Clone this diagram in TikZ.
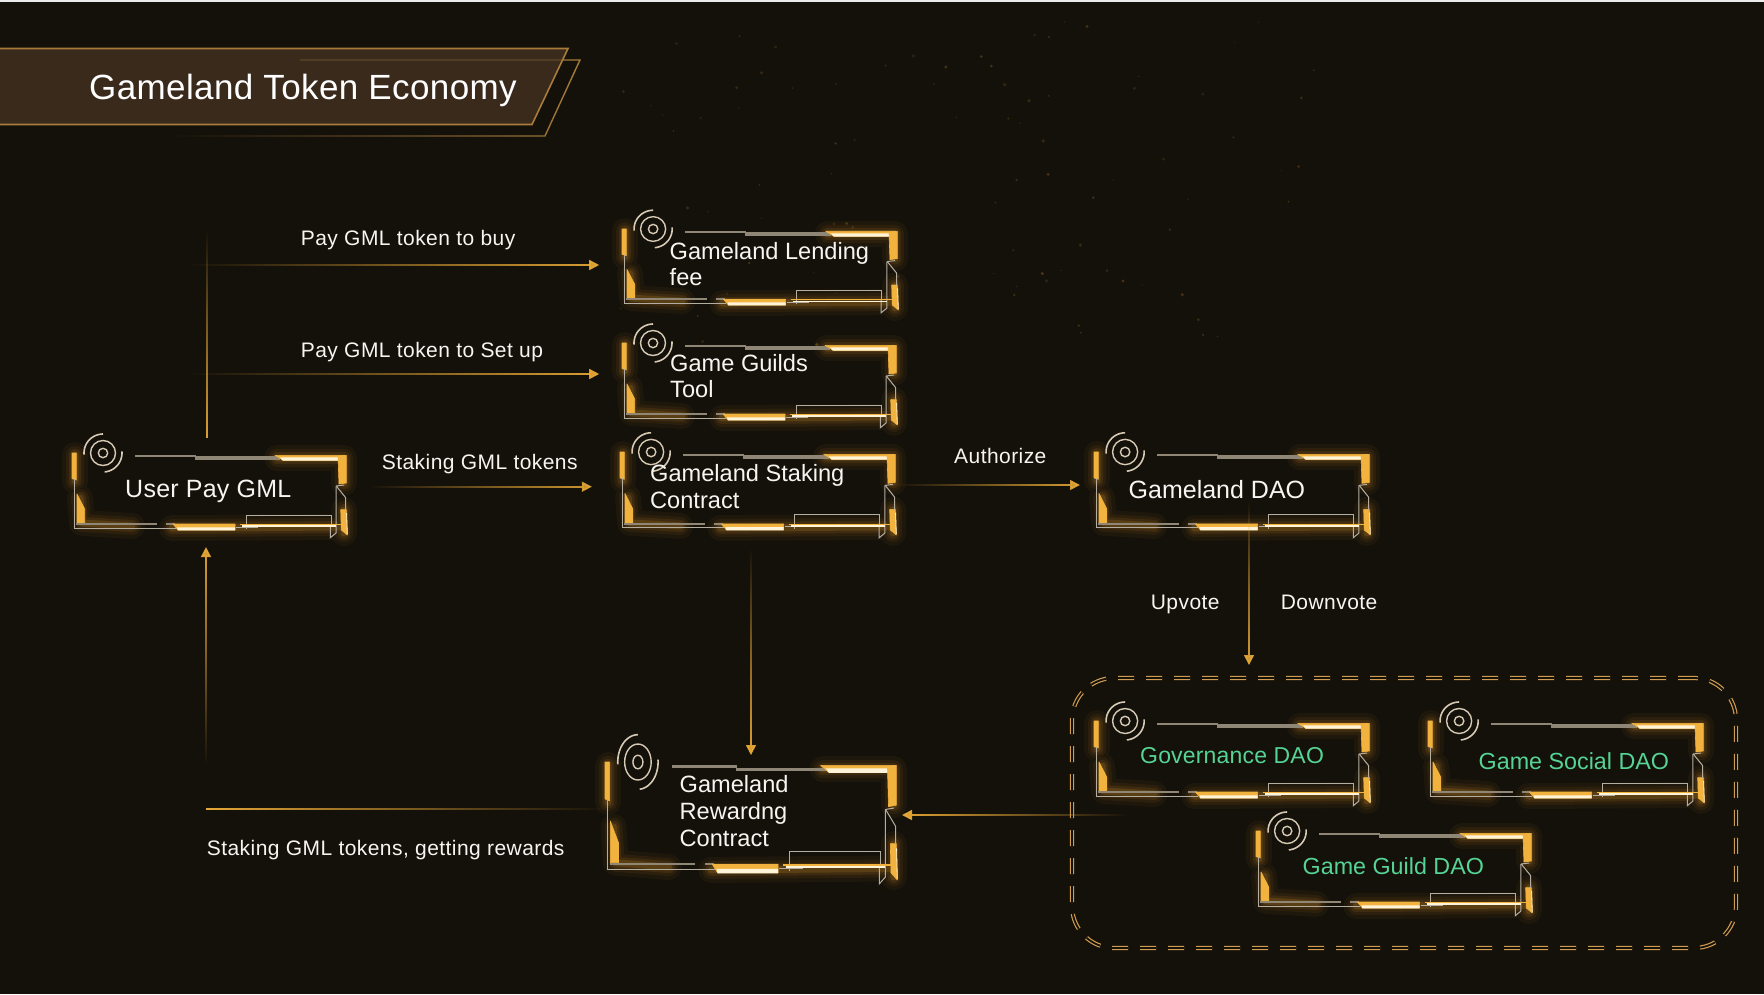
\documentclass[tikz,border=0pt]{standalone}
\usepackage{fontspec}
\setmainfont{Liberation Sans}
\usetikzlibrary{arrows.meta,fadings,calc}
\definecolor{bgdark}{HTML}{14100A}
\definecolor{fgold}{HTML}{F2B23E}
\definecolor{fhot}{HTML}{FFF3D8}
\definecolor{fgrey}{HTML}{8F8675}
\definecolor{fthin}{HTML}{B4AEA2}
\definecolor{ficon}{HTML}{D6CAB5}
\definecolor{fglow}{HTML}{E89F2E}
\definecolor{goldline}{HTML}{E8A936}
\definecolor{bannerfill}{HTML}{3A2A1C}
\definecolor{bannerline}{HTML}{A97C3C}
\definecolor{dashgold}{HTML}{D09C50}
\definecolor{daogreen}{HTML}{55D495}
\definecolor{txt}{HTML}{F6F5F1}
\tikzfading[name=fadeE,left color=transparent!100,middle color=transparent!45,right color=transparent!0]
\tikzfading[name=fadeW,right color=transparent!100,middle color=transparent!45,left color=transparent!0]
\tikzfading[name=fadeS,top color=transparent!100,bottom color=transparent!0,middle color=transparent!45]
\tikzfading[name=fadeN,bottom color=transparent!100,top color=transparent!0,middle color=transparent!45]
\tikzset{
  fbox/.style={rectangle,inner sep=0pt,outer sep=0pt,anchor=north west},
  conn/.style={draw=goldline,line width=1.6pt},
  arrowed/.style={-{Triangle[length=10pt,width=10pt]}},
  fadeX/.style n args={3}{path fading=#1,fit fading=false,fading transform={shift={(#2)},xscale=#3}},
  fadeY/.style n args={3}{path fading=#1,fit fading=false,fading transform={shift={(#2)},yscale=#3}},
  lbl/.style={text=txt,inner sep=0pt,anchor=base west,font=\addfontfeature{LetterSpace=2.1}\fontsize{21}{25}\selectfont},
  ftxt/.style={text=txt,inner sep=0pt,anchor=base west,font=\addfontfeature{LetterSpace=1}\fontsize{25}{30}\selectfont},
  ftwo/.style={text=txt,inner sep=0pt,anchor=west,align=left},
  fgreen/.style={text=daogreen,inner sep=0pt,anchor=base west,font=\fontsize{23.3}{28}\selectfont},
  goldpart/.style={fill=fgold,draw=fgold,line width=.6pt,line join=round},
  hotpart/.style={fill=fhot,draw=none},
  thinline/.style={draw=fthin,line width=1pt},
  greyline/.style={draw=fgrey,line width=3.2pt},
  iconline/.style={draw=ficon,line width=1.4pt},
}
\newcommand{\glowpath}{
  (205,5) -- (272,5) -- (272,30) (272,57) -- (272,80)
  (100,75) -- (272,74) (3,2) -- (3,28) (8,45) -- (10,70) -- (60,73)
}
\newcommand{\gameframe}[5]{%
  \node[fbox,minimum width=#4pt,minimum height=#5pt] (#1) at (#2,#3) {};
  \pgfmathsetmacro{\fxs}{#4/275}\pgfmathsetmacro{\fys}{#5/82}
  \begin{scope}[shift={(#2,#3)},xscale=\fxs,yscale=\fys]
    \draw[fglow,line cap=round,line join=round,line width=26pt,opacity=.05] \glowpath;
    \draw[fglow,line cap=round,line join=round,line width=18pt,opacity=.07] \glowpath;
    \draw[fglow,line cap=round,line join=round,line width=12pt,opacity=.1] \glowpath;
    \draw[fglow,line cap=round,line join=round,line width=7pt,opacity=.16] \glowpath;
    % icon
    \draw[iconline] (31,0) circle[x radius=4.7,y radius=4.7];
    \draw[iconline] (31,0) circle[x radius=12.5,y radius=12.5];
    \draw[iconline,line width=1.6pt] plot[domain=90:185,samples=14,smooth] ({31+19*cos(\x)},{-19*sin(\x)});
    \draw[iconline,line width=1.6pt] plot[domain=-85:5,samples=14,smooth] ({31+19*cos(\x)},{-19*sin(\x)});
    % top
    \draw[greyline,line width=2.4pt] (63,3) -- (124,3);
    \draw[greyline] (123,5) -- (208,5);
    \fill[goldpart] (203,2.3) -- (273,2.3) -- (266,7.3) -- (211,7.3) -- cycle;
    \fill[hotpart] (208,4.4) -- (267,4.4) -- (266,7.6) -- (211,7.6) -- cycle;
    % right
    \fill[goldpart] (266,3) -- (274.3,2.3) -- (274.3,30) -- (267,31) -- cycle;
    \fill[goldpart] (268.7,56.7) -- (274.3,56.7) -- (275.3,82) -- (269.3,77) -- cycle;
    \draw[draw=fhot,line width=.8pt] (274.6,60) -- (275.3,81);
    \draw[thinline] (264,33) -- (264,80) -- (258.3,84.7) -- (258.3,72);
    \draw[thinline] (264,33) -- (272,32) (264.3,33) -- (273.7,44.7) -- (273.7,57);
    % left
    \fill[goldpart] (0,0) -- (4.3,0) -- (4.3,27) -- (0,25.6) -- cycle;
    \fill[goldpart] (5,41) -- (12.7,56) -- (12.7,70) -- (5,70) -- cycle;
    \draw[thinline] (2,26) -- (2,75) -- (104,75);
    % bottom
    \draw[greyline,line width=2.6pt] (4.3,71) -- (85,71) (94,71) -- (103,71);
    \fill[goldpart] (101,71) -- (163,71) -- (163,77) -- (106,77) -- cycle;
    \fill[hotpart] (105,74.3) -- (163,74.3) -- (163,77.3) -- (106,77.3) -- cycle;
    \draw[thinline] (164,74) -- (186,74);
    \draw[thinline] (174,76) -- (174,62) -- (259,62) -- (259,72);
    \draw[fgold,line width=1.5pt] (168,71.5) -- (272,71.5);
    \draw[fhot,line width=1.2pt] (170,73) -- (264,73);
  \end{scope}
}
\begin{document}
\begin{tikzpicture}[x=1pt,y=-1pt]
\useasboundingbox (0,0) rectangle (1764,994);
\fill[bgdark] (0,0) rectangle (1764,994);
\fill[black!8] (0,0) rectangle (1764,1.5);
% particles
\pgfmathsetseed{11}
\foreach \i in {1,...,90}{
  \pgfmathsetmacro{\px}{620+700*rnd}
  \pgfmathsetmacro{\py}{20+330*rnd}
  \pgfmathsetmacro{\pr}{.6+1.3*rnd}
  \pgfmathsetmacro{\pm}{10+14*rnd}
  \fill[fgold!\pm!bgdark] (\px,\py) circle[x radius=\pr,y radius=\pr];
}
% banner
\draw[bannerline,line width=1.4pt,path fading=west] (160,60) -- (580,60) -- (545,136) -- (160,136);
\path[fill=bannerfill] (0,48.5) -- (568,48.5) -- (532,124.5) -- (0,124.5) -- cycle;
\draw[bannerline!22!bannerfill,line width=1.2pt] (300,60) -- (563,60);
\draw[bannerline,line width=1.6pt] (0,48.5) -- (568,48.5) -- (532,124.5) -- (0,124.5);
\node[text=white,inner sep=0pt,anchor=base west,font=\addfontfeature{LetterSpace=1.1}\fontsize{35}{40}\selectfont] (title) at (89,99) {Gameland Token Economy};
% frames
\gameframe{user}{72}{453}{275}{82}
\gameframe{lending}{622}{229}{276}{81}
\gameframe{guilds}{622}{343}{275}{82}
\gameframe{staking}{620}{452}{276}{83}
\gameframe{dao}{1094}{452}{276}{83}
\gameframe{rewarding}{605}{762}{292}{118}
\gameframe{governance}{1094}{721}{276}{82}
\gameframe{social}{1428}{721}{276}{82}
\gameframe{guilddao}{1256}{831}{276}{82}
% dashed group
\node[rectangle,inner sep=0pt,outer sep=0pt,anchor=north west,minimum width=664pt,minimum height=270pt,
  rounded corners=42pt,draw=dashgold,line width=1.2pt,double=bgdark,double distance=1.8pt,dash pattern=on 16pt off 12pt] (group) at (1072,678) {};
% connector coordinates
\coordinate (upTop) at (207,230);
\coordinate (buy) at (190,265);
\coordinate (setup) at (190,374);
\coordinate (stake) at (370,486.7);
\coordinate (auth) at (896,485);
\coordinate (vote) at (1249,500);
\coordinate (rew) at (751,550);
\coordinate (fromdao) at (1127,815);
\coordinate (ret) at (206,809);
\coordinate (retup) at (206,763);
% connectors
\draw[conn,fadeY={fadeS}{207,341}{4.5},shorten <=15pt] (user.north -| upTop) -- (upTop);
\draw[conn,arrowed,fadeX={fadeE}{406,265}{8.8},shorten >=22.7pt] (buy) -- (buy -| lending.west);
\draw[conn,arrowed,fadeX={fadeE}{406,373}{8.8},shorten >=22.7pt] (setup) -- (setup -| guilds.west);
\draw[conn,arrowed,fadeX={fadeE}{495,487}{5.1},shorten >=28pt] (stake) -- (stake -| staking.west);
\draw[conn,arrowed,fadeX={fadeE}{995,485}{4.0},shorten >=14pt] (auth) -- (auth -| dao.west);
\draw[conn,arrowed,fadeY={fadeS}{1249,589}{3.6},shorten >=13pt] (vote) -- (vote |- group.north);
\draw[conn,arrowed,fadeY={fadeS}{751,656}{4.4},shorten >=7pt] (rew) -- (rew |- rewarding.north);
\draw[conn,arrowed,fadeX={fadeW}{1012,815}{4.7},shorten >=5pt] (fromdao) -- (fromdao -| rewarding.east);
\draw[conn,fadeX={fadeW}{406,809}{8.1}] (ret -| rewarding.west) -- (ret);
\draw[conn,arrowed,fadeY={fadeN}{206,649}{4.7},shorten >=12pt] (retup) -- (retup |- user.south);
% labels
\node[lbl] (l1) at (300.7,245) {Pay GML token to buy};
\node[lbl] (l2) at (300.7,357.5) {Pay GML token to Set up};
\node[lbl] (l3) at (381.7,469) {Staking GML tokens};
\node[lbl] (l4) at (954,463.5) {Authorize};
\node[lbl] (l5) at (1150.7,609) {Upvote};
\node[lbl] (l6) at (1280.7,609) {Downvote};
\node[lbl] (l7) at (206.7,855) {Staking GML tokens, getting rewards};
% frame texts
\node[ftxt] (user-t) at (125,497) {User Pay GML};
\node[ftxt,font=\fontsize{25}{30}\selectfont] (dao-t) at (1128.5,498) {Gameland DAO};
\node[ftwo,font=\fontsize{23.6}{25.5}\selectfont] (lending-t) at (669.5,264) {Gameland Lending\\fee};
\node[ftwo,font=\fontsize{23.6}{25.5}\selectfont] (guilds-t) at (670,376) {Game Guilds\\Tool};
\node[ftwo,font=\fontsize{23.6}{26.5}\selectfont] (staking-t) at (650,486.5) {Gameland Staking\\Contract};
\node[ftwo,font=\fontsize{23.6}{27}\selectfont] (rewarding-t) at (679.5,811) {Gameland\\Rewardng\\Contract};
\node[fgreen,font=\addfontfeature{LetterSpace=.8}\fontsize{23}{28}\selectfont] (gov-t) at (1140,763.5) {Governance DAO};
\node[fgreen] (social-t) at (1478.5,769) {Game Social DAO};
\node[fgreen] (guilddao-t) at (1302.5,874) {Game Guild DAO};
\end{tikzpicture}
\end{document}
